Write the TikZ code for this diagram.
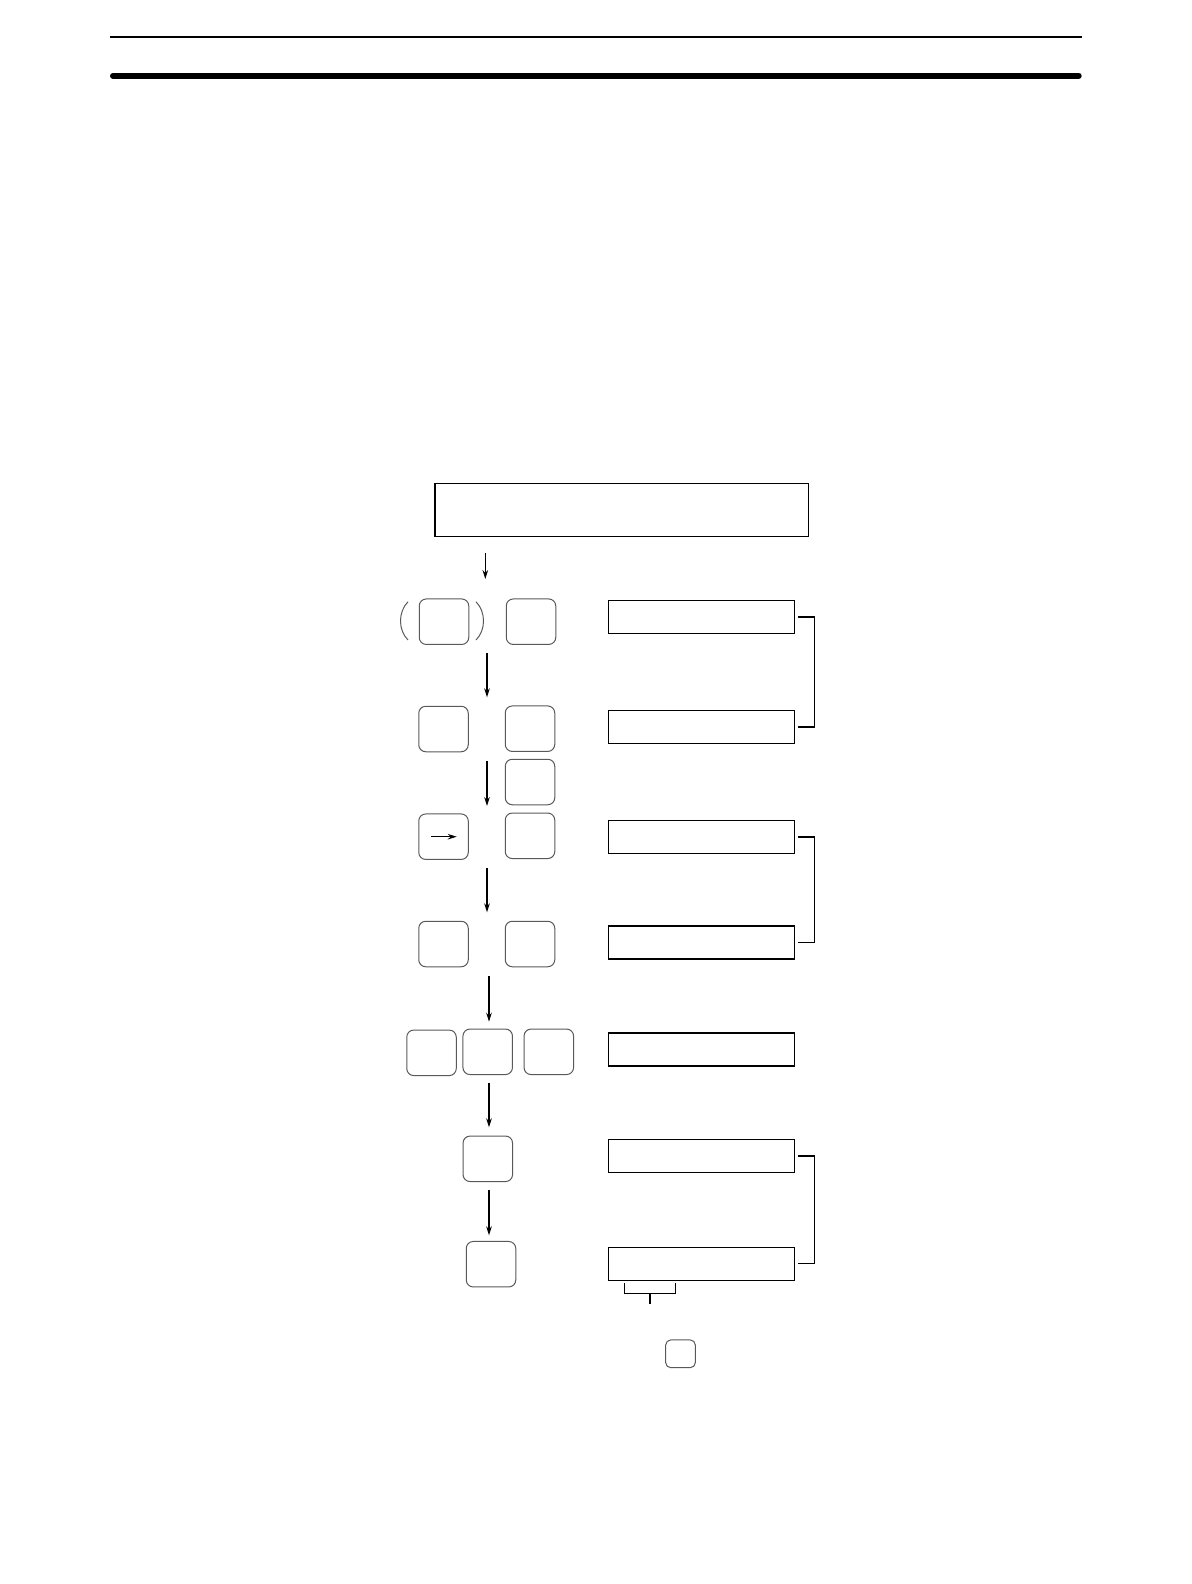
\documentclass[tikz,border=0pt]{standalone}
\usetikzlibrary{arrows.meta}
\begin{document}
\begin{tikzpicture}[x=0.5pt,y=-0.5pt,
  key/.style={draw=black!65, line width=0.5pt, rounded corners=3.5pt, minimum width=24.75pt, minimum height=22.75pt, inner sep=0pt, outer sep=0pt},
  disp/.style={draw, line width=0.7pt, minimum width=93.2pt, minimum height=16.5pt, inner sep=0pt, outer sep=0pt},
  arr/.style={line width=0.6pt, -{Stealth[length=4.5pt,width=2.8pt]}},
  brk/.style={line width=0.7pt}]
\useasboundingbox (0,0) rectangle (1192,1584);
\draw[line width=0.85pt] (110,37.3) -- (1081.7,37.3);
\draw[line width=3pt, line cap=round] (113,75.7) -- (1078.7,75.7);
\node[disp, minimum width=186.85pt, minimum height=26.5pt] (big) at (621.85,509.8){};
\node[key] (k1a) at (444,621.7){};
\node[key] (k1b) at (531,621.7){};
\draw[black!65, line width=0.5pt] (408,601.7) .. controls (398,612) and (398,630) .. (408,640);
\draw[black!65, line width=0.5pt] (476,601.7) .. controls (486,612) and (486,630) .. (476,640);
\node[key] (k2a) at (443.5,729){};
\node[key] (k2b) at (530,728.7){};
\node[key] (k2c) at (530,782){};
\node[key] (k3a) at (443.5,836.7){};
\node[key] (k3b) at (530,835.8){};
\draw[arr] ([xshift=-6.3pt]k3a.center) -- ([xshift=6.6pt]k3a.center);
\node[key] (k4a) at (443.5,944){};
\node[key] (k4b) at (530,944){};
\node[key] (k5a) at (431.5,1052.8){};
\node[key] (k5b) at (487.7,1051.8){};
\node[key] (k5c) at (548.8,1051.8){};
\node[key] (k6) at (487.8,1158.8){};
\node[key] (k7) at (491,1264.2){};
\node[key, minimum width=14.8pt, minimum height=13.85pt, rounded corners=2.5pt] (ksm) at (680.5,1353.8){};
\node[disp] (d1) at (701.5,616.8){};
\node[disp] (d2) at (701.5,726.8){};
\node[disp] (d3) at (701.5,836.8){};
\node[disp] (d4) at (701.5,942.5){};
\node[disp] (d5) at (701.5,1049.5){};
\node[disp] (d6) at (701.5,1155.8){};
\node[disp] (d7) at (701.5,1263.7){};
\coordinate (a1s) at (485.3,553);
\coordinate (a1e) at (485.3,579);
\coordinate (a2s) at (487,653);
\coordinate (a2e) at (487,697.3);
\coordinate (a3s) at (487,761);
\coordinate (a3e) at (487,806);
\coordinate (a4s) at (487,868.3);
\coordinate (a4e) at (487,912.3);
\coordinate (a5s) at (489,976.3);
\coordinate (a5e) at (489,1021.7);
\coordinate (a6s) at (489,1083);
\coordinate (a6e) at (489,1127.3);
\coordinate (a7s) at (489,1190);
\coordinate (a7e) at (489,1235.3);
\draw[arr](a1s) -- (a1e);
\draw[arr](a2s) -- (a2e);
\draw[arr](a3s) -- (a3e);
\draw[arr](a4s) -- (a4e);
\draw[arr](a5s) -- (a5e);
\draw[arr](a6s) -- (a6e);
\draw[arr](a7s) -- (a7e);
\draw[brk]([xshift=1.8pt]d1.east) -- ++(16,0) |- ([xshift=1.8pt]d2.east);
\draw[brk]([xshift=1.8pt]d3.east) -- ++(16,0) |- ([xshift=1.8pt]d4.east);
\draw[brk]([xshift=1.8pt]d6.east) -- ++(16,0) |- ([xshift=1.8pt]d7.east);
\coordinate (sbl) at (624.3,1283.3);
\coordinate (sbr) at (675.3,1283.3);
\coordinate (sbm) at (649.8,1293.3);
\coordinate (sbt) at (649.8,1304.3);
\draw[brk](sbl) |- (sbm) -| (sbr);
\draw[brk](sbm) -- (sbt);

\end{tikzpicture}
\end{document}
